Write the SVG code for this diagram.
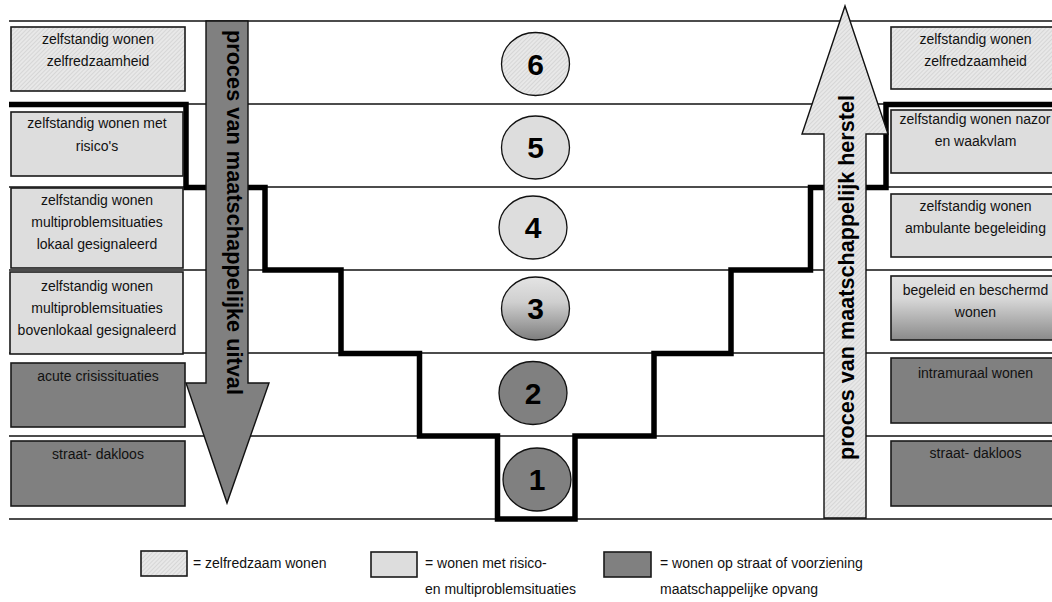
<svg xmlns="http://www.w3.org/2000/svg" width="1052" height="602" viewBox="0 0 1052 602">
<defs>
  <pattern id="hatch" width="3" height="3" patternUnits="userSpaceOnUse" patternTransform="rotate(45)">
    <rect width="3" height="3" fill="#e8e8e8"/>
    <line x1="0" y1="0" x2="0" y2="3" stroke="#c4c4c4" stroke-width="1"/>
  </pattern>
  <linearGradient id="gradBox" x1="0" y1="0" x2="0" y2="1">
    <stop offset="0" stop-color="#e2e2e2"/>
    <stop offset="0.35" stop-color="#d8d8d8"/>
    <stop offset="1" stop-color="#8a8a8a"/>
  </linearGradient>
  <linearGradient id="gradCircle" x1="0" y1="0" x2="0" y2="1">
    <stop offset="0" stop-color="#e4e4e4"/>
    <stop offset="0.4" stop-color="#cfcfcf"/>
    <stop offset="1" stop-color="#7e7e7e"/>
  </linearGradient>
</defs>
<style>
  .grid { stroke:#111; stroke-width:1.3; }
  .box { stroke:#1a1a1a; stroke-width:1.6; }
  .hatch { fill:url(#hatch); }
  .light { fill:#dddddd; }
  .dark { fill:#808080; }
  .grad { fill:url(#gradBox); }
  .t { font-family:"Liberation Sans", Arial, sans-serif; font-size:14px; fill:#111; }
  .c { text-anchor:middle; }
  .num { font-family:"Liberation Sans", Arial, sans-serif; font-size:30px; font-weight:bold; fill:#000; text-anchor:middle; }
  .circ { stroke:#111; stroke-width:1.3; }
  .arrowtxt { font-family:"Liberation Sans", Arial, sans-serif; font-size:22px; font-weight:bold; fill:#000; text-anchor:middle; }
  .arrow { stroke:#111; stroke-width:1.4; stroke-linejoin:miter; }
  .stairs { fill:none; stroke:#000; stroke-width:5.5; stroke-linejoin:miter; }
</style>
<rect width="1052" height="602" fill="#ffffff"/>

<g id="grid">
  <line class="grid" x1="9" y1="21" x2="1052" y2="21"/>
  <line class="grid" x1="9" y1="104" x2="1052" y2="104"/>
  <line class="grid" x1="9" y1="187" x2="1052" y2="187"/>
  <line class="grid" x1="9" y1="270" x2="1052" y2="270"/>
  <line class="grid" x1="9" y1="353" x2="1052" y2="353"/>
  <line class="grid" x1="9" y1="436" x2="1052" y2="436"/>
  <line class="grid" x1="9" y1="519" x2="1052" y2="519"/>
</g>

<g id="connectors">
  <path id="stairs" class="stairs" d="M9,104.5 H186 V187.5 H265 V270 H341 V353.5 H419.5 V436 H497.5 V519 H575 V436 H654 V353.5 H731 V270 H810.5 V187.5 H886 V104.5 H1052"/>
</g>

<g id="arrow-uitval">
  <polygon class="arrow dark" points="206,21 248,21 248,383 269,383 227,503 186,383 206,383"/>
  <text class="arrowtxt" transform="translate(226.5,212.5) rotate(90)" x="0" y="0" textLength="365" lengthAdjust="spacingAndGlyphs">proces van maatschappelijke uitval</text>
</g>

<g id="arrow-herstel">
  <polygon class="arrow hatch" points="824,518 866,518 866,134 888,134 845,6 802,134 824,134"/>
  <text class="arrowtxt" transform="translate(853.5,277.5) rotate(-90)" x="0" y="0" textLength="365" lengthAdjust="spacingAndGlyphs">proces van maatschappelijk herstel</text>
</g>

<g id="left-1">
  <rect class="box hatch" x="11" y="27" width="174" height="64"/>
  <text class="t c" x="98" y="44">zelfstandig wonen</text>
  <text class="t c" x="98" y="66">zelfredzaamheid</text>
</g>
<g id="left-2">
  <rect class="box light" x="11" y="112" width="172" height="64"/>
  <text class="t c" x="97" y="128">zelfstandig wonen met</text>
  <text class="t c" x="97" y="151">risico's</text>
</g>
<g id="left-3">
  <rect class="box light" x="11" y="188" width="172" height="80"/>
  <text class="t c" x="97" y="205">zelfstandig wonen</text>
  <text class="t c" x="97" y="227">multiproblemsituaties</text>
  <text class="t c" x="97" y="249">lokaal gesignaleerd</text>
</g>
<g id="left-4">
  <rect class="box light" x="10" y="272" width="173" height="82"/>
  <text class="t c" x="97" y="291">zelfstandig wonen</text>
  <text class="t c" x="97" y="313">multiproblemsituaties</text>
  <text class="t c" x="97" y="335">bovenlokaal gesignaleerd</text>
</g>
<g id="left-5">
  <rect class="box dark" x="11" y="363" width="174" height="64"/>
  <text class="t c" x="98" y="381">acute crisissituaties</text>
</g>
<g id="left-6">
  <rect class="box dark" x="11" y="441" width="174" height="65"/>
  <text class="t c" x="98" y="459">straat- dakloos</text>
</g>

<g id="right-1">
  <rect class="box hatch" x="891" y="27" width="172" height="62"/>
  <text class="t c" x="975.5" y="44">zelfstandig wonen</text>
  <text class="t c" x="975.5" y="66">zelfredzaamheid</text>
</g>
<g id="right-2">
  <rect class="box light" x="891" y="110" width="172" height="63"/>
  <text class="t c" x="975" y="124">zelfstandig wonen nazor</text>
  <text class="t c" x="975.5" y="146">en waakvlam</text>
</g>
<g id="right-3">
  <rect class="box light" x="891" y="194" width="172" height="63"/>
  <text class="t c" x="975.5" y="211">zelfstandig wonen</text>
  <text class="t c" x="975.5" y="233">ambulante begeleiding</text>
</g>
<g id="right-4">
  <rect class="box grad" x="891" y="276" width="172" height="64"/>
  <text class="t c" x="975.5" y="295">begeleid en beschermd</text>
  <text class="t c" x="975.5" y="317">wonen</text>
</g>
<g id="right-5">
  <rect class="box dark" x="891" y="358" width="172" height="65"/>
  <text class="t c" x="975.5" y="378">intramuraal wonen</text>
</g>
<g id="right-6">
  <rect class="box dark" x="891" y="441" width="172" height="65"/>
  <text class="t c" x="975.5" y="458">straat- dakloos</text>
</g>

<g id="circle-6">
  <ellipse class="circ hatch" cx="535.5" cy="64" rx="34" ry="31.5"/>
  <text class="num" x="535.5" y="74.5">6</text>
</g>
<g id="circle-5">
  <ellipse class="circ light" cx="535.5" cy="147.5" rx="34" ry="31.5"/>
  <text class="num" x="535.5" y="158">5</text>
</g>
<g id="circle-4">
  <ellipse class="circ light" cx="533" cy="227.5" rx="34" ry="31.5"/>
  <text class="num" x="533" y="238">4</text>
</g>
<g id="circle-3">
  <ellipse class="circ" fill="url(#gradCircle)" cx="535.5" cy="308.5" rx="34" ry="31.5"/>
  <text class="num" x="535.5" y="319">3</text>
</g>
<g id="circle-2">
  <ellipse class="circ dark" cx="533" cy="393" rx="34" ry="31.5"/>
  <text class="num" x="533" y="403.5">2</text>
</g>
<g id="circle-1">
  <ellipse class="circ dark" cx="537" cy="479.5" rx="34" ry="31.5"/>
  <text class="num" x="537" y="490">1</text>
</g>

<g id="legend">
  <g id="legend-1">
    <rect class="box hatch" x="141" y="551" width="46" height="25"/>
    <text class="t" x="193" y="568">= zelfredzaam wonen</text>
  </g>
  <g id="legend-2">
    <rect class="box light" x="371" y="552" width="46" height="25"/>
    <text class="t" x="425" y="568">= wonen met risico-</text>
    <text class="t" x="425" y="594">en multiproblemsituaties</text>
  </g>
  <g id="legend-3">
    <rect class="box dark" x="604" y="552" width="47" height="25"/>
    <text class="t" x="660" y="568">= wonen op straat of voorziening</text>
    <text class="t" x="660" y="594">maatschappelijke opvang</text>
  </g>
</g>
</svg>
